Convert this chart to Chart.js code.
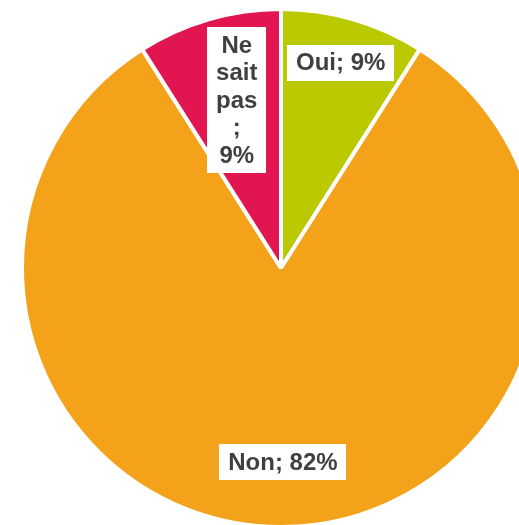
<!DOCTYPE html>
<html>
<head>
<meta charset="utf-8">
<script src="https://cdn.jsdelivr.net/npm/chart.js@4/dist/chart.umd.min.js"></script>
<style>
  html, body { margin: 0; padding: 0; background: #ffffff; overflow: hidden; width: 519px; height: 525px; }
  #wrap { position: absolute; left: 20px; top: 7px; width: 522px; height: 522px; }
</style>
</head>
<body>
<div id="wrap"><canvas id="c"></canvas></div>
<script>
const categories = ['Oui', 'Non', 'Ne sait pas '];
const values = [9, 82, 9];
const colors = ['#bac900', '#f3a21a', '#e11651'];

const labelPlugin = {
  id: 'boxLabels',
  afterDatasetsDraw(chart, args, opts) {
    const ctx = chart.ctx;
    const meta = chart.getDatasetMeta(0);
    const fontSize = 24;
    const lineH = 27.6;
    const padX = 9, padY = 4;
    ctx.save();
    ctx.font = 'bold ' + fontSize + 'px "Liberation Sans", Arial, sans-serif';
    meta.data.forEach((arc, i) => {
      const p = arc.getProps(['x', 'y', 'startAngle', 'endAngle', 'outerRadius'], true);
      const mid = (p.startAngle + p.endAngle) / 2 + opts.angleShift[i];
      const r = p.outerRadius * opts.radial[i];
      const cx = p.x + Math.cos(mid) * r;
      const cy = p.y + Math.sin(mid) * r;
      const text = categories[i] + '; ' + values[i] + '%';
      const words = text.split(' ').filter(w => w.length);
      const lines = [];
      let cur = '';
      words.forEach(w => {
        const t = cur ? cur + ' ' + w : w;
        if (cur && ctx.measureText(t).width > opts.maxWidth[i]) { lines.push(cur); cur = w; }
        else cur = t;
      });
      if (cur) lines.push(cur);
      const wMax = Math.max(...lines.map(l => ctx.measureText(l).width));
      const bw = wMax + 2 * padX;
      const bh = lines.length * lineH + 2 * padY;
      ctx.fillStyle = '#ffffff';
      ctx.fillRect(Math.round(cx - bw / 2), Math.round(cy - bh / 2), Math.round(bw), Math.round(bh));
      ctx.fillStyle = '#404040';
      ctx.textAlign = 'center';
      ctx.textBaseline = 'middle';
      lines.forEach((l, k) => {
        ctx.fillText(l, cx, cy - bh / 2 + padY + lineH * (k + 0.5) + 1);
      });
    });
    ctx.restore();
  }
};

new Chart(document.getElementById('c'), {
  type: 'pie',
  data: {
    labels: categories,
    datasets: [{
      data: values,
      backgroundColor: colors,
      borderColor: '#ffffff',
      borderWidth: 4
    }]
  },
  options: {
    responsive: true,
    maintainAspectRatio: false,
    animation: false,
    layout: { padding: 0 },
    plugins: {
      legend: { display: false },
      tooltip: { enabled: false },
      boxLabels: { radial: [0.826, 0.75, 0.67], maxWidth: [400, 400, 44], angleShift: [0, -0.01, 0.025] }
    }
  },
  plugins: [labelPlugin]
});
</script>
</body>
</html>
